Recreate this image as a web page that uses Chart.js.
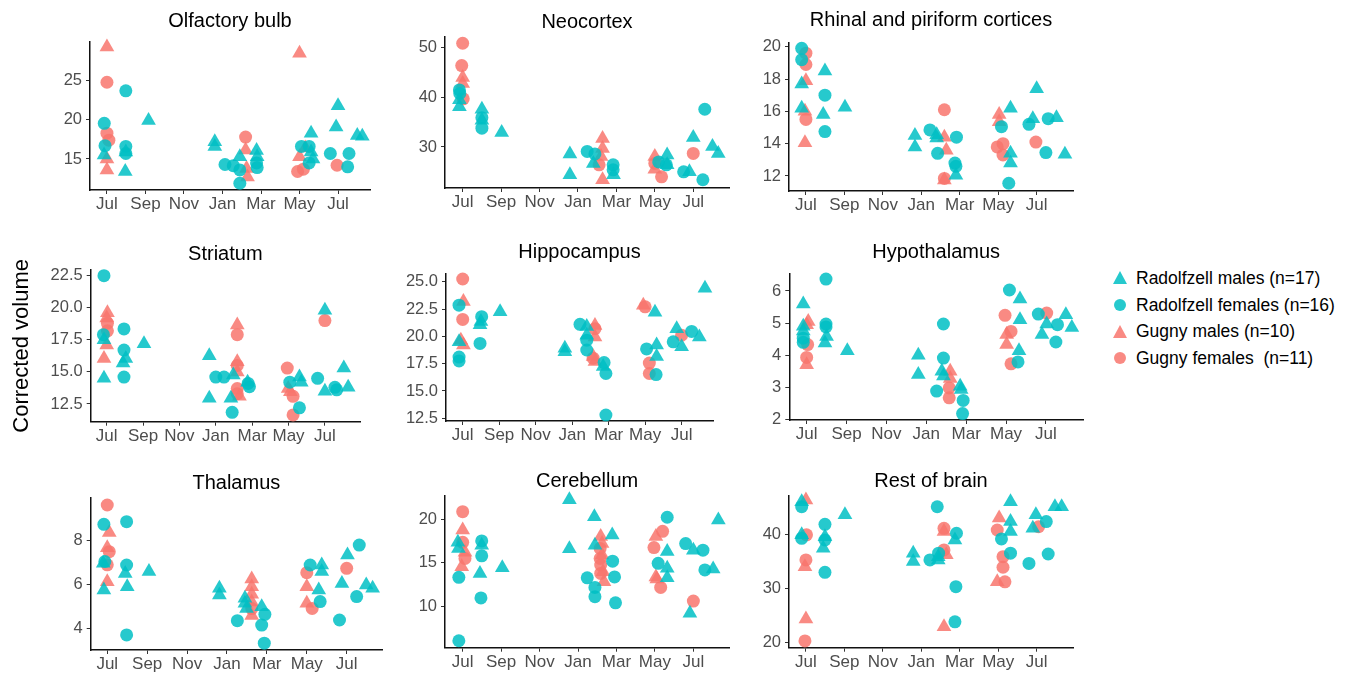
<!DOCTYPE html>
<html>
<head>
    <meta charset="utf-8">
    <title>Corrected brain region volumes by month</title>
    <script src="https://cdn.jsdelivr.net/npm/chart.js"></script>
    <style>
        html, body { margin: 0; padding: 0; background: #fff; }
        body {
            width: 1354px;
            height: 673px;
            position: relative;
            overflow: hidden;
            font-family: 'Liberation Sans', Arial, sans-serif;
        }
        canvas.panel { position: absolute; }
        #legend { position: absolute; left: 1112px; top: 265px; font-size: 17.5px; color: #000; }
        #legend .item { height: 26.7px; display: flex; align-items: center; white-space: pre; }
        #legend .mark { width: 16px; height: 16px; margin-right: 8px; position: relative; }
        #legend .tri {
            position: absolute; left: 0.5px; top: 1px; width: 0; height: 0;
            border-left: 7.5px solid transparent; border-right: 7.5px solid transparent;
            border-bottom: 13px solid;
        }
        #legend .dot { position: absolute; left: 2px; top: 2px; width: 12px; height: 12px; border-radius: 50%; }
    </style>
</head>
<body>
    <div id="legend"></div>
    <script>
        // x axis: months since the first July
        const monthTicks = [0, 2, 4, 6, 8, 10, 12];
        const monthLabels = ['Jul', 'Sep', 'Nov', 'Jan', 'Mar', 'May', 'Jul'];

        const groupNames = ['Radolfzell males (n=17)', 'Radolfzell females (n=16)', 'Gugny males (n=10)', 'Gugny females  (n=11)'];

        // [month, corrected volume]
        const olfactoryRM = [[-0.15,15.5],[0.98,15.9],[0.95,13.4],[2.16,19.9],[5.6,17.2],[5.6,16.6],[6.9,15.3],[7.77,16.1],[7.8,15.3],[10.6,18.3],[10.6,15.9],[10.7,15.0],[11.9,19.1],[12.0,21.8],[13.0,18.0],[13.26,17.9]];
        const olfactoryRF = [[-0.14,19.55],[-0.1,16.7],[0.98,23.7],[0.98,16.6],[0.98,15.7],[6.13,14.3],[6.56,14.15],[6.9,13.6],[6.9,11.9],[7.77,14.5],[7.8,13.9],[10.1,16.6],[10.5,16.6],[10.5,14.5],[11.6,15.7],[12.5,14.0],[12.57,15.7]];
        const olfactoryGM = [[0,29.3],[0,15.0],[0,13.6],[7.2,16.15],[7.25,13.8],[7.3,12.7],[10.0,28.5],[10.0,15.3],[10.3,16.4]];
        const olfactoryGF = [[0,24.8],[0,18.3],[0.1,17.4],[7.2,17.8],[9.9,13.4],[10.2,13.7],[11.95,14.2]];

        const neocortexRM = [[-0.17,39.5],[-0.17,38.1],[1.0,37.6],[1.0,35.4],[2.03,32.9],[5.58,28.6],[5.58,24.4],[6.8,26.7],[7.85,24.4],[10.64,28.4],[10.64,26.4],[11.8,25.0],[12.0,31.9],[13.0,30.1],[13.3,28.7]];
        const neocortexRF = [[-0.17,41.5],[-0.15,40.8],[1.0,35.9],[1.0,33.8],[6.48,29.1],[6.88,28.6],[7.83,26.4],[7.83,25.4],[10.2,27.0],[10.6,26.4],[11.5,25.0],[12.5,23.4],[12.6,37.6]];
        const neocortexGM = [[0,44.0],[0,42.8],[7.28,31.7],[7.28,29.7],[7.2,28.1],[7.28,23.4],[10.0,28.1],[10.0,25.5]];
        const neocortexGF = [[0,50.9],[-0.05,46.4],[0.03,39.7],[7.1,26.4],[10.0,26.7],[10.35,24.0],[12.0,28.7]];

        const rhinalRM = [[-0.22,17.7],[-0.22,16.2],[0.99,18.5],[0.9,15.8],[2.03,16.25],[5.67,14.5],[5.67,13.8],[6.8,14.55],[6.8,14.35],[7.8,12.05],[10.64,16.2],[10.64,13.4],[10.64,12.8],[11.8,15.55],[12.0,17.4],[13.03,15.6],[13.47,13.35]];
        const rhinalRF = [[-0.22,19.9],[-0.22,19.2],[0.99,17.0],[0.99,14.75],[6.45,14.85],[6.85,13.4],[7.83,14.4],[7.75,12.8],[7.8,12.6],[10.17,15.05],[10.55,11.55],[11.6,15.2],[12.48,13.45],[12.6,15.55]];
        const rhinalGM = [[0,17.9],[-0.05,16.0],[-0.05,14.05],[7.2,14.4],[7.3,13.6],[7.2,11.75],[10.05,15.8],[10.05,15.35]];
        const rhinalGF = [[0,19.6],[0,18.9],[0,15.5],[7.2,16.1],[7.2,11.85],[9.95,13.8],[10.25,14.0],[10.25,13.3],[11.96,14.1]];

        const striatumRM = [[-0.15,17.5],[-0.15,14.5],[1.05,16.05],[0.9,15.7],[2.05,17.2],[5.64,16.25],[5.64,12.95],[6.96,14.75],[6.83,12.95],[7.75,14.2],[10.6,14.6],[10.7,14.2],[12.0,19.8],[12.0,13.5],[13.04,15.3],[13.28,13.8]];
        const striatumRF = [[-0.15,22.5],[-0.18,17.9],[0.95,18.35],[0.95,16.7],[0.95,14.6],[6.0,14.6],[6.45,14.6],[6.9,11.85],[7.78,14.1],[7.85,13.85],[10.07,14.2],[10.6,12.2],[11.6,14.5],[12.55,13.8],[12.65,13.6]];
        const striatumGM = [[0.04,19.6],[0,19.2],[0,17.1],[-0.15,16.05],[7.18,18.65],[7.18,15.8],[7.18,15.0],[7.3,13.1],[9.98,13.7],[10.1,13.45]];
        const striatumGF = [[0.04,18.8],[0.04,18.2],[7.18,17.9],[7.18,15.5],[7.18,13.7],[7.18,13.3],[9.93,15.3],[10.25,13.1],[10.25,11.65],[12.0,19.0]];

        const hippocampusRM = [[-0.2,19.5],[1.0,21.35],[0.95,21.05],[2.05,22.25],[5.6,18.9],[5.6,18.6],[6.8,20.9],[6.8,20.1],[7.7,17.25],[10.54,22.2],[10.63,19.2],[10.63,18.15],[11.73,20.7],[12.0,19.05],[12.97,19.95],[13.28,24.4]];
        const hippocampusRF = [[-0.2,22.85],[-0.2,18.1],[-0.2,17.75],[1.04,21.8],[0.95,19.35],[6.43,21.1],[6.8,19.65],[6.8,18.75],[7.75,17.6],[7.85,16.6],[7.85,12.8],[10.08,18.85],[10.6,16.5],[11.54,19.5],[12.55,20.45]];
        const hippocampusGM = [[0.04,23.2],[-0.1,19.65],[0.04,19.2],[7.25,21.0],[7.25,19.95],[7.15,18.15],[7.25,17.7],[9.9,22.85]];
        const hippocampusGF = [[0,25.25],[0,21.55],[7.25,20.7],[7.15,18.0],[10.0,22.7],[10.23,17.55],[10.23,16.6],[12.0,20.1]];

        const hypothalamusRM = [[-0.17,5.59],[-0.17,4.9],[-0.17,4.75],[1.0,4.58],[0.92,4.38],[2.04,4.14],[5.6,4.0],[5.6,3.4],[6.78,3.5],[6.86,3.35],[7.7,3.03],[7.75,2.93],[10.7,5.75],[10.7,5.1],[10.65,4.14],[11.8,4.64],[12.04,4.97],[13.0,5.26],[13.3,4.86]];
        const hypothalamusRF = [[-0.17,4.53],[-0.17,4.4],[0.97,6.37],[0.97,4.97],[0.97,4.88],[6.52,2.88],[6.86,4.97],[6.86,3.91],[7.85,2.59],[7.82,2.18],[10.17,6.03],[10.6,3.79],[11.62,5.28],[12.58,4.95],[12.5,4.41]];
        const hypothalamusGM = [[0.08,5.05],[0,4.95],[0,3.7],[7.2,3.5],[7.2,3.27],[10.03,4.64],[10.03,4.33]];
        const hypothalamusGF = [[0.05,4.33],[0,3.93],[7.15,2.98],[7.15,2.67],[9.95,5.24],[10.25,4.74],[10.25,3.73],[12.04,5.31]];

        const thalamusRM = [[-0.2,6.97],[-0.17,5.75],[0.9,6.5],[1.0,5.9],[2.09,6.59],[5.62,5.83],[5.62,5.52],[6.9,5.37],[6.9,5.14],[6.98,4.9],[7.74,4.99],[10.75,6.89],[10.75,6.59],[10.6,5.75],[11.76,6.05],[12.04,7.35],[12.98,5.98],[13.3,5.83]];
        const thalamusRF = [[-0.17,8.75],[-0.12,7.05],[0.97,8.87],[0.97,6.89],[0.97,3.7],[6.52,4.35],[7.9,4.64],[7.74,4.15],[7.87,3.32],[10.17,6.89],[10.67,5.22],[11.64,4.38],[12.5,5.45],[12.63,7.8]];
        const thalamusGM = [[0.1,8.38],[0,7.68],[0,6.13],[7.24,6.25],[7.24,5.9],[7.24,5.55],[7.24,5.2],[7.24,4.58],[10.0,5.9],[10.0,5.14]];
        const thalamusGF = [[0,9.63],[0.1,7.5],[0,6.9],[7.24,4.9],[10.0,6.54],[10.27,4.91],[12.0,6.74]];

        const cerebellumRM = [[-0.25,17.34],[-0.22,16.65],[0.99,17.0],[0.9,13.8],[2.06,14.45],[5.55,22.2],[5.55,16.6],[6.85,20.27],[6.88,17.0],[7.78,18.17],[10.64,16.3],[10.64,14.4],[10.64,13.3],[11.82,9.25],[12.0,16.45],[13.03,14.3],[13.3,19.9]];
        const cerebellumRF = [[-0.2,13.35],[-0.2,6.12],[0.99,17.5],[0.99,15.8],[0.95,11.0],[6.48,13.3],[6.88,12.2],[6.88,11.15],[7.8,15.2],[7.9,13.4],[7.95,10.45],[10.17,14.95],[10.64,20.2],[11.6,17.2],[12.5,16.45],[12.6,14.2]];
        const cerebellumGM = [[0,18.75],[0.12,16.2],[-0.05,14.56],[7.18,18.0],[7.25,17.2],[7.25,15.9],[7.3,14.0],[7.35,12.85],[10.05,18.0],[10.05,13.4],[10.1,13.15]];
        const cerebellumGF = [[0,20.84],[0,17.34],[0.12,15.5],[7.15,16.65],[7.15,15.5],[7.18,14.75],[7.18,13.8],[9.95,16.75],[10.4,18.6],[10.3,12.2],[12.0,10.65]];

        const restRM = [[-0.22,46.05],[-0.22,39.9],[0.99,39.55],[0.9,37.4],[2.03,43.6],[5.58,36.5],[5.58,34.95],[6.88,35.85],[6.88,35.25],[7.75,38.95],[10.64,46.05],[10.64,42.35],[10.64,40.5],[11.8,41.1],[11.96,43.6],[12.95,45.1],[13.3,45.1]];
        const restRF = [[-0.22,45.1],[-0.22,39.25],[0.99,41.85],[0.99,38.95],[0.99,32.95],[6.45,35.25],[6.83,45.1],[6.9,36.5],[7.83,40.2],[7.8,30.3],[7.75,23.8],[10.17,39.15],[10.64,36.5],[11.6,34.6],[12.5,42.35],[12.6,36.35]];
        const restGM = [[0,46.35],[-0.05,34.0],[0,24.3],[7.18,40.5],[7.3,36.2],[7.18,22.9],[10.05,43.0],[9.95,31.2]];
        const restGF = [[0.03,39.9],[0,35.25],[-0.05,20.25],[7.18,41.1],[7.18,37.1],[9.95,40.8],[10.25,35.85],[10.25,33.9],[10.35,31.2],[12.1,41.4]];

        // y tick labels per panel
        const olfactoryTicks = [15, 20, 25];
        const neocortexTicks = [30, 40, 50];
        const rhinalTicks = [12, 14, 16, 18, 20];
        const striatumTicks = [12.5, 15, 17.5, 20, 22.5];
        const hippocampusTicks = [12.5, 15, 17.5, 20, 22.5, 25];
        const hypothalamusTicks = [2, 3, 4, 5, 6];
        const thalamusTicks = [4, 6, 8];
        const cerebellumTicks = [10, 15, 20];
        const restTicks = [20, 30, 40];

        const TEAL = 'rgba(0, 191, 196, 0.85)';
        const SALMON = 'rgba(248, 118, 109, 0.85)';
        const groupColors = [TEAL, TEAL, SALMON, SALMON];
        const groupShapes = ['triangle', 'circle', 'triangle', 'circle'];
        const groupRadius = [8.5, 6.5, 8.5, 6.5];
        const FONT = "'Liberation Sans', Arial, sans-serif";

        // plot-area box on the page (L, R, T, B), title centre, axis limits
        const panels = [
            { title: 'Olfactory bulb', groups: [olfactoryRM, olfactoryRF, olfactoryGM, olfactoryGF], yTicks: olfactoryTicks, dec: 0,
              L: 90, R: 370, T: 42, B: 190, titleY: 21, x: [-0.88, 13.66], y: [11.04, 29.94] },
            { title: 'Neocortex', groups: [neocortexRM, neocortexRF, neocortexGM, neocortexGF], yTicks: neocortexTicks, dec: 0,
              L: 445, R: 729, T: 37, B: 188, titleY: 22.5, x: [-0.92, 13.86], y: [21.74, 52.16] },
            { title: 'Rhinal and piriform cortices', groups: [rhinalRM, rhinalRF, rhinalGM, rhinalGF], yTicks: rhinalTicks, dec: 0,
              L: 789, R: 1073, T: 42.7, B: 191, titleY: 20.5, x: [-0.88, 13.89], y: [11.07, 20.25] },
            { title: 'Striatum', groups: [striatumRM, striatumRF, striatumGM, striatumGF], yTicks: striatumTicks, dec: 1, yTitle: true,
              L: 90.7, R: 360, T: 270, B: 421.7, titleY: 254.5, x: [-0.88, 13.93], y: [11.12, 22.94] },
            { title: 'Hippocampus', groups: [hippocampusRM, hippocampusRF, hippocampusGM, hippocampusGF], yTicks: hippocampusTicks, dec: 1,
              L: 446, R: 713, T: 273.3, B: 421, titleY: 252.5, x: [-0.915, 13.72], y: [12.25, 25.77] },
            { title: 'Hypothalamus', groups: [hypothalamusRM, hypothalamusRF, hypothalamusGM, hypothalamusGF], yTicks: hypothalamusTicks, dec: 0,
              L: 789.3, R: 1083, T: 273.3, B: 420, titleY: 252, x: [-0.87, 13.86], y: [1.98, 6.55] },
            { title: 'Thalamus', groups: [thalamusRM, thalamusRF, thalamusGM, thalamusGF], yTicks: thalamusTicks, dec: 0,
              L: 90.7, R: 382, T: 498, B: 650, titleY: 483, x: [-0.83, 13.77], y: [3.01, 9.95] },
            { title: 'Cerebellum', groups: [cerebellumRM, cerebellumRF, cerebellumGM, cerebellumGF], yTicks: cerebellumTicks, dec: 0,
              L: 445, R: 729.3, T: 495.7, B: 647.7, titleY: 481, x: [-0.92, 13.87], y: [5.33, 22.66] },
            { title: 'Rest of brain', groups: [restRM, restRF, restGM, restGF], yTicks: restTicks, dec: 0,
              L: 789, R: 1073, T: 495.7, B: 647.7, titleY: 481, x: [-0.88, 13.89], y: [19.0, 47.15] }
        ];

        const TITLE_SIZE = 20;
        const TITLE_LH = TITLE_SIZE * 1.2;
        const X_AXIS_H = 30;

        panels.forEach(p => {
            const left = Math.round(p.L - (p.yTitle ? 88.3 : 60));
            const yW = p.L - left;
            const top = Math.round(p.titleY - TITLE_LH / 2);
            const padTop = p.titleY - TITLE_LH / 2 - top;
            const padBottom = p.T - top - padTop - TITLE_LH;
            const w = Math.ceil(p.R - left + 20);
            const h = Math.ceil(p.B - top + X_AXIS_H);
            const xH = h - (p.B - top);

            const canvas = document.createElement('canvas');
            canvas.className = 'panel';
            canvas.width = w;
            canvas.height = h;
            canvas.style.left = left + 'px';
            canvas.style.top = top + 'px';
            canvas.style.width = w + 'px';
            canvas.style.height = h + 'px';
            document.body.appendChild(canvas);

            new Chart(canvas.getContext('2d'), {
                type: 'scatter',
                data: {
                    datasets: p.groups.map((g, i) => ({
                        label: groupNames[i],
                        data: g.map(([x, y]) => ({ x, y })),
                        pointStyle: groupShapes[i],
                        pointRadius: groupRadius[i],
                        pointHoverRadius: groupRadius[i],
                        pointBackgroundColor: groupColors[i],
                        pointBorderColor: 'rgba(0,0,0,0)',
                        pointBorderWidth: 0,
                        clip: false
                    }))
                },
                options: {
                    responsive: false,
                    animation: false,
                    events: [],
                    layout: { padding: { left: 0, top: 0, bottom: 0, right: w - (p.R - left) } },
                    plugins: {
                        legend: { display: false },
                        tooltip: { enabled: false },
                        title: {
                            display: true,
                            text: p.title,
                            fullSize: false,
                            color: '#000',
                            font: { family: FONT, size: TITLE_SIZE, weight: 'normal' },
                            padding: { top: padTop, bottom: padBottom }
                        }
                    },
                    scales: {
                        x: {
                            type: 'linear',
                            min: p.x[0],
                            max: p.x[1],
                            afterBuildTicks: s => { s.ticks = monthTicks.map(v => ({ value: v })); },
                            afterFit: s => { s.height = xH; },
                            ticks: {
                                callback: (v, i) => monthLabels[i],
                                color: '#4d4d4d',
                                font: { family: FONT, size: 17 },
                                padding: 0,
                                maxRotation: 0,
                                autoSkip: false
                            },
                            grid: { display: true, drawOnChartArea: false, drawTicks: true, tickLength: 4, color: '#333', lineWidth: 1 },
                            border: { display: true, color: '#111', width: 1.5 }
                        },
                        y: {
                            type: 'linear',
                            min: p.y[0],
                            max: p.y[1],
                            afterBuildTicks: s => { s.ticks = p.yTicks.map(v => ({ value: v })); },
                            afterFit: s => { s.width = yW; },
                            title: {
                                display: !!p.yTitle,
                                text: 'Corrected volume',
                                color: '#000',
                                font: { family: FONT, size: 22 },
                                padding: { top: 7, bottom: 0 }
                            },
                            ticks: {
                                callback: v => v.toFixed(p.dec),
                                color: '#4d4d4d',
                                font: { family: FONT, size: 16.5 },
                                padding: 4,
                                autoSkip: false
                            },
                            grid: { display: true, drawOnChartArea: false, drawTicks: true, tickLength: 4, color: '#333', lineWidth: 1 },
                            border: { display: true, color: '#111', width: 1.5 }
                        }
                    }
                }
            });
        });

        // legend on the right
        const legend = document.getElementById('legend');
        groupNames.forEach((name, i) => {
            const item = document.createElement('div');
            item.className = 'item';
            const mark = document.createElement('span');
            mark.className = 'mark';
            const shape = document.createElement('span');
            if (groupShapes[i] === 'triangle') {
                shape.className = 'tri';
                shape.style.borderBottomColor = groupColors[i];
            } else {
                shape.className = 'dot';
                shape.style.background = groupColors[i];
            }
            mark.appendChild(shape);
            item.appendChild(mark);
            item.appendChild(document.createTextNode(name));
            legend.appendChild(item);
        });
    </script>
</body>
</html>
